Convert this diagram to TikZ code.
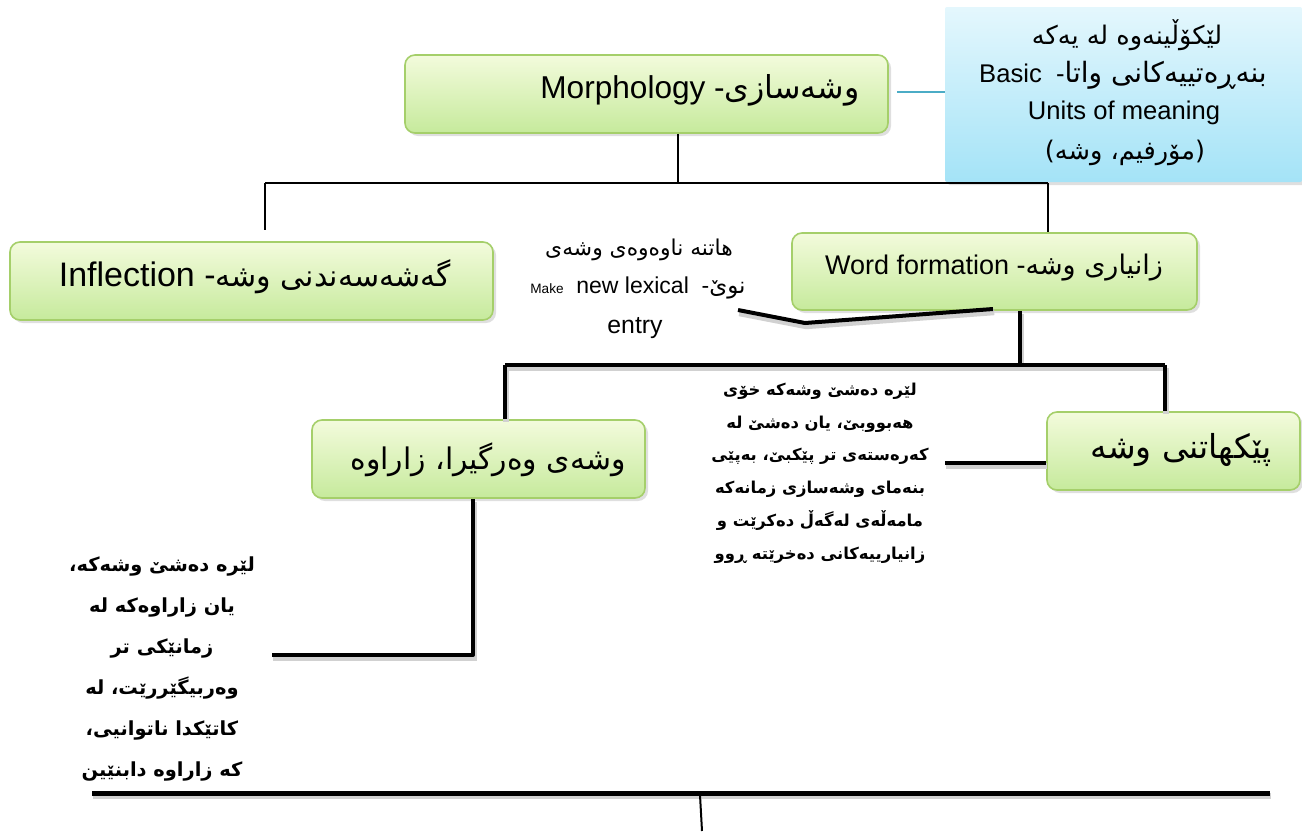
\documentclass[tikz,border=0pt]{standalone}
\usepackage{fontspec}
\setmainfont{Liberation Sans}
\newfontfamily\ar[Script=Arabic]{DejaVu Sans}
\TeXXeTstate=1
\usetikzlibrary{shadows,calc}
\definecolor{gtop}{HTML}{F3FBDC}
\definecolor{gbot}{HTML}{C6EA9C}
\definecolor{gline}{HTML}{A5CF6A}
\definecolor{btop}{HTML}{E4F7FD}
\definecolor{bbot}{HTML}{A4E3F7}
\definecolor{blink}{HTML}{4BACC6}
\newcommand\AR[1]{{\ar\beginR #1\endR}}
\begin{document}
\begin{tikzpicture}[x=0.5pt,y=-0.5pt,
  gbox/.style={draw=gline, line width=0.8pt, rounded corners=5pt, top color=gtop, bottom color=gbot,
    drop shadow={opacity=0.25, shadow xshift=1.5pt, shadow yshift=-1.5pt}, inner sep=0pt},
  bbox/.style={rounded corners=1pt, top color=btop, bottom color=bbot,
    drop shadow={opacity=0.25, shadow xshift=1.5pt, shadow yshift=-1.5pt}, inner sep=0pt},
  lbl/.style={inner sep=0pt, text=black},
  thinln/.style={line width=0.7pt, black},
  thickln/.style={line width=2pt, black, line join=round,
    preaction={draw=black!18, line width=3pt, transform canvas={shift={(0.6pt,-1.6pt)}}}},
  par/.style={inner sep=0pt, align=center, font=\ar\bfseries\fontsize{8.2}{16.4}\selectfont},
  par2/.style={inner sep=0pt, align=center, font=\ar\bfseries\fontsize{9.7}{20.5}\selectfont}
]
\fill[white] (0,0) rectangle (1302,831);
\useasboundingbox (0,0) rectangle (1302,831);

% boxes
\node[gbox, minimum width=241.5pt, minimum height=39pt] (morph) at (646.5,94) {};
\node[bbox, minimum width=178.5pt, minimum height=87.5pt] (blue) at (1123.5,94.5) {};
\node[gbox, minimum width=241.5pt, minimum height=39pt] (infl) at (251.5,281) {};
\node[gbox, minimum width=202.5pt, minimum height=38.5pt] (wf) at (994.5,271.5) {};
\node[gbox, minimum width=166.5pt, minimum height=39pt] (der) at (478.5,459) {};
\node[gbox, minimum width=126.5pt, minimum height=39pt] (comp) at (1173.5,451) {};

% box texts
\node[lbl, font=\fontsize{15.8}{18}\selectfont] (morphT) at (700,90) {Morphology -\AR{وشەسازی}};
\node[lbl, font=\fontsize{17}{19}\selectfont] (inflT) at (255,277) {Inflection -{\fontsize{15}{18}\selectfont\AR{گەشەسەندنی وشە}}};
\node[lbl, font=\fontsize{13.5}{16}\selectfont] (wfT) at (994,268) {Word formation -\AR{زانیاری وشە}};
\node[lbl, font=\fontsize{14.9}{17}\selectfont] (derT) at (488,460) {\AR{وشەی وەرگیرا، زاراوە}};
\node[lbl, font=\fontsize{16.5}{18}\selectfont] (compT) at (1181,450) {\AR{پێکھاتنی وشە}};

% blue box text
\node[lbl, font=\fontsize{12.8}{15}\selectfont] (b1) at (1127,35) {\AR{لێکۆڵینەوە لە یەکە}};
\node[lbl, font=\fontsize{12.8}{15}\selectfont] (b2) at (1123,75) {Basic\ \ -{\fontsize{14}{15}\selectfont\AR{بنەڕەتییەکانی واتا}}};
\node[lbl, font=\fontsize{12.8}{15}\selectfont] (b3) at (1124,113) {Units of meaning};
\node[lbl, font=\fontsize{12.8}{15}\selectfont] (b4) at (1125,153) {\AR{(مۆرفیم، وشە)}};

% middle label
\node[lbl, font=\fontsize{10.9}{12}\selectfont] (m1) at (639,250) {\AR{ھاتنە ناوەوەی وشەی}};
\node[lbl, font=\fontsize{11.5}{13}\selectfont] (m2) at (638,288) {{\fontsize{6.8}{8}\selectfont Make} \ new lexical\ \ -\AR{نوێ}};
\node[lbl, font=\fontsize{12.4}{14}\selectfont] (m3) at (635,328) {entry};

% paragraphs
\node[par] (p1) at (820,473) {\AR{لێرە دەشێ وشەکە خۆی}\\\AR{ھەبووبێ، یان دەشێ لە}\\\AR{کەرەستەی تر پێکبێ، بەپێی}\\\AR{بنەمای وشەسازی زمانەکە}\\\AR{مامەڵەی لەگەڵ دەکرێت و}\\\AR{زانیارییەکانی دەخرێتە ڕوو}};
\node[par2] (p2) at (162,669) {\AR{لێرە دەشێ وشەکە،}\\\AR{یان زاراوەکە لە}\\\AR{زمانێکی تر}\\\AR{وەربیگێررێت، لە}\\\AR{کاتێکدا ناتوانیی،}\\\AR{کە زاراوە دابنێین}};

% coordinates
\coordinate (j1) at (678,183);
\coordinate (jl) at (265,183);
\coordinate (jr) at (1048,183);
\coordinate (el) at (265,230);
\coordinate (c1) at (738,310);
\coordinate (c2) at (805,323);
\coordinate (c3) at (993,309);
\coordinate (k1) at (1020,365);
\coordinate (kl) at (505,365);
\coordinate (kr) at (1165,365);
\coordinate (q1) at (945,463);
\coordinate (d1) at (473,655);
\coordinate (d2) at (272,655);
\coordinate (z1) at (92,793);
\coordinate (z2) at (1270,793);
\coordinate (z3) at (700,795);
\coordinate (z4) at (702,831);
\coordinate (bl1) at (897,92);

% connectors
\draw[blink, line width=1pt] (bl1) -- (bl1 -| blue.west);
\draw[thinln] (j1 |- morph.south) -- (j1);
\draw[thinln] (jl) -- (jr);
\draw[thinln] (jl) -- (el);
\draw[thinln] (jr) -- (jr |- wf.north);
\draw[thickln] (c1) -- (c2) -- (c3);
\draw[thickln] (k1 |- wf.south) -- (k1);
\draw[thickln] (kl) -- (kr);
\draw[thickln] (kl) -- (kl |- der.north);
\draw[thickln] (kr) -- (kr |- comp.north);
\draw[thickln] (q1) -- (q1 -| comp.west);
\draw[thickln] (d1 |- der.south) -- (d1) -- (d2);
\draw[thickln, line width=2.5pt] (z1) -- (z2);
\draw[thinln, line width=1pt] (z3) -- (z4);
\end{tikzpicture}
\end{document}
